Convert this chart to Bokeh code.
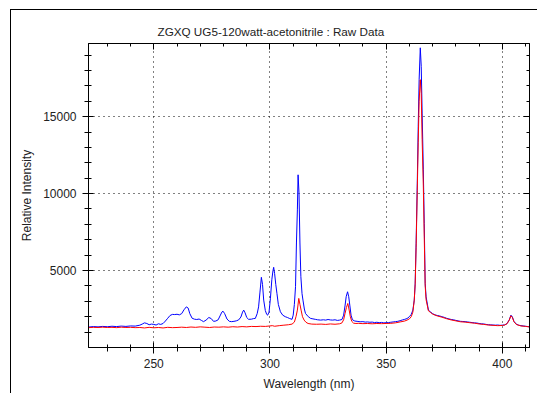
from bokeh.plotting import figure
from bokeh.models import Range1d, LinearAxis, FixedTicker
from bokeh.embed import file_html
from bokeh.resources import INLINE

# ---- data ----
blue_wl = [222, 224, 226, 228, 230, 232, 234, 236, 238, 240, 242, 244, 245, 246, 247, 248, 249, 250,
           251, 252, 253, 254, 255, 256, 257, 258, 259, 260, 261, 262, 263, 264, 264.8, 265.5, 266.5,
           267.5, 268.5, 269.5, 270.5, 271.4, 272.5, 273.7, 274.7, 275.7, 276.7, 277.7, 278.5, 279.3,
           279.8, 280.5, 281.5, 282.5, 283.5, 284.5, 285.5, 286.5, 287.5, 288.2, 288.7, 289.3, 290,
           290.8, 292, 293, 293.7, 294.5, 295.1, 295.7, 296.3, 296.8, 297.3, 298, 298.6, 299, 299.6,
           300.2, 300.8, 301.3, 301.6, 302, 302.5, 303, 303.6, 304.5, 305.5, 306.6, 307.5, 308.5,
           309.5, 310, 310.5, 311, 311.4, 311.8, 312.1, 312.5, 312.9, 313.3, 313.8, 314.2, 314.8,
           315.3, 316.5, 317.5, 318.5, 319.5, 320.5, 321.8, 323, 324, 325, 326, 327, 328, 329, 330,
           331, 331.7, 332.3, 332.8, 333.4, 333.9, 334.4, 334.9, 335.5, 336.5, 337.5, 338.8, 340,
           341, 342, 343, 344, 345, 346, 347, 348, 349, 350, 351, 352, 353, 354, 355, 356, 357, 358,
           359, 360, 360.8, 361.5, 362.1, 362.5, 362.9, 363.4, 363.8, 364.2, 364.7, 365.1, 365.5,
           366, 366.4, 366.8, 367.2, 368.2, 369, 370, 371, 372, 373, 374, 375, 376, 377, 378, 379,
           380, 381, 382, 383, 384, 385, 386, 387, 388, 389, 390, 391, 392, 393, 394, 395, 396, 397,
           398, 399, 400, 401, 402, 403, 403.7, 404.3, 405, 406, 407, 408, 409, 410, 411, 412]
blue_int = [1330, 1360, 1340, 1370, 1350, 1380, 1360, 1390, 1370, 1400, 1390, 1450, 1520, 1600, 1560,
            1480, 1520, 1500, 1460, 1540, 1500, 1560, 1720, 1900, 2080, 2150, 2140, 2160, 2120, 2200,
            2450, 2640, 2560, 2200, 1900, 1840, 1820, 1850, 1760, 1680, 1780, 1950, 1880, 1700, 1720,
            1800, 2050, 2300, 2360, 2200, 1850, 1700, 1680, 1700, 1730, 1790, 1980, 2300, 2430, 2250,
            1950, 1830, 1840, 1880, 1890, 2200, 2640, 3600, 4560, 4100, 3080, 2400, 2150, 2100, 2300,
            3200, 4400, 5000, 5210, 4800, 4100, 3520, 2800, 2320, 2100, 2000, 1950, 1880, 1830, 2100,
            2800, 3950, 6790, 8940, 11220, 10030, 6790, 4600, 3500, 3080, 2500, 2210, 2000, 1890, 1860,
            1830, 1800, 1780, 1800, 1780, 1820, 1790, 1780, 1800, 1760, 1780, 1820, 2100, 2700, 3300,
            3620, 3300, 2700, 2100, 1800, 1720, 1700, 1670, 1680, 1650, 1660, 1640, 1650, 1620, 1640,
            1610, 1630, 1600, 1610, 1620, 1640, 1660, 1680, 1700, 1740, 1790, 1830, 1880, 2000, 2150,
            2430, 3080, 4170, 6770, 10680, 14360, 17400, 19470, 18270, 15230, 11540, 8070, 4170, 3290,
            2430, 2320, 2200, 2120, 2080, 2050, 2000, 1960, 1900, 1860, 1820, 1800, 1760, 1730, 1700,
            1690, 1680, 1660, 1640, 1620, 1600, 1590, 1560, 1540, 1530, 1500, 1480, 1470, 1460, 1450,
            1460, 1440, 1450, 1470, 1550, 1800, 2100, 2000, 1700, 1520, 1450, 1420, 1400, 1380, 1360,
            1340]

red_wl = [222, 224, 226, 228, 230, 232, 234, 236, 238, 240, 242, 244, 246, 248, 250, 252, 254, 256,
          258, 260, 262, 264, 266, 268, 270, 272, 274, 276, 278, 280, 282, 284, 286, 288, 290, 292,
          294, 296, 298, 300, 301, 302, 304, 306, 308, 309.5, 310.5, 311.2, 311.8, 312.4, 312.9,
          313.4, 314, 314.7, 315.5, 316.4, 318, 320, 322, 324, 326, 328, 330, 331, 331.7, 332.3,
          332.9, 333.5, 334, 334.6, 335.2, 336, 337, 338, 340, 342, 344, 346, 348, 350, 352, 354,
          356, 358, 359, 360, 360.8, 361.5, 362.1, 362.5, 362.9, 363.4, 363.8, 364.2, 364.7, 365.1,
          365.5, 366, 366.4, 366.8, 367.2, 368.2, 369, 370, 372, 374, 376, 378, 380, 382, 384, 386,
          388, 390, 392, 394, 396, 398, 400, 401, 402, 403, 403.7, 404.3, 405, 406, 408, 410, 412]
red_int = [1290, 1310, 1300, 1320, 1300, 1310, 1290, 1320, 1300, 1310, 1290, 1300, 1270, 1310, 1280,
           1300, 1270, 1310, 1290, 1300, 1320, 1300, 1330, 1310, 1340, 1320, 1300, 1330, 1320, 1340,
           1320, 1350, 1330, 1360, 1340, 1370, 1360, 1380, 1370, 1400, 1420, 1380, 1420, 1450, 1480,
           1520, 1650, 2000, 2430, 3190, 2800, 2430, 2000, 1780, 1640, 1560, 1520, 1510, 1520, 1500,
           1530, 1510, 1540, 1600, 1800, 2200, 2600, 2860, 2500, 2000, 1700, 1580, 1560, 1570, 1550,
           1560, 1540, 1560, 1550, 1560, 1570, 1600, 1660, 1720, 1780, 1860, 2000, 2300, 3080, 4100,
           6500, 10200, 13300, 16000, 17400, 16500, 13500, 10500, 7200, 4000, 3100, 2380, 2290, 2170,
           2050, 1970, 1870, 1790, 1730, 1670, 1650, 1610, 1580, 1530, 1500, 1460, 1440, 1420, 1430,
           1460, 1540, 1780, 2060, 1960, 1680, 1500, 1400, 1370, 1330]

title_text = "ZGXQ  UG5-120watt-acetonitrile : Raw Data"
x_major = [250, 300, 350, 400]
x_minor = [230, 240, 260, 270, 280, 290, 310, 320, 330, 340, 360, 370, 380, 390, 410]
y_major = [5000, 10000, 15000]
y_minor = [1000, 2000, 3000, 4000, 6000, 7000, 8000, 9000, 11000, 12000, 13000, 14000,
           16000, 17000, 18000, 19000]

FONT = "Liberation Sans"
TXT = "#222222"

p = figure(width=527, height=384, output_backend="svg", toolbar_location=None,
           x_range=Range1d(221.9, 411.7), y_range=Range1d(0, 19750),
           min_border_left=77, min_border_right=9, min_border_top=33, min_border_bottom=47,
           background_fill_color="white", border_fill_color="white")
p.margin = (9, 0, 0, 10)
p.styles = {"border-left": "1px solid black", "border-top": "1px solid black"}

p.line(blue_wl, blue_int, line_color="#0000ff", line_width=1)
p.line(red_wl, red_int, line_color="#ff0000", line_width=1)

xt = FixedTicker(ticks=x_major, minor_ticks=x_minor)
yt = FixedTicker(ticks=y_major, minor_ticks=y_minor)

for ax, t in ((p.xaxis[0], xt), (p.yaxis[0], yt)):
    ax.ticker = t
    ax.axis_line_color = "black"
    ax.major_tick_line_color = "black"
    ax.minor_tick_line_color = "black"
    ax.major_tick_in = 5
    ax.major_tick_out = 6
    ax.minor_tick_in = 3
    ax.minor_tick_out = 4
    ax.major_label_text_font = FONT
    ax.major_label_text_font_size = "12px"
    ax.major_label_text_color = TXT
    ax.axis_label_text_font = FONT
    ax.axis_label_text_font_size = "12px"
    ax.axis_label_text_font_style = "normal"
    ax.axis_label_text_color = TXT

p.xaxis[0].axis_label = "Wavelength (nm)"
p.yaxis[0].axis_label = "Relative Intensity"
p.xaxis[0].major_label_standoff = 5
p.xaxis[0].axis_label_standoff = 6
p.yaxis[0].major_label_standoff = 6
p.yaxis[0].axis_label_standoff = 6
p.yaxis[0].major_label_orientation = "horizontal"

top_ax = LinearAxis(ticker=xt, major_label_text_font_size="0px", major_label_text_color=None,
                    major_tick_in=6, major_tick_out=0,
                    minor_tick_in=3, minor_tick_out=0, axis_line_color="black",
                    major_label_standoff=0)
right_ax = LinearAxis(ticker=yt, major_label_text_font_size="0px", major_label_text_color=None,
                      major_tick_in=6, major_tick_out=0,
                      minor_tick_in=3, minor_tick_out=0, axis_line_color="black",
                      major_label_standoff=0)
p.add_layout(top_ax, "above")
p.add_layout(right_ax, "right")

for g, t in ((p.xgrid[0], xt), (p.ygrid[0], yt)):
    g.ticker = t
    g.grid_line_color = "black"
    g.grid_line_dash = "1 4"
    g.grid_line_width = 1

p.outline_line_color = "black"

p.title.text = title_text
p.title.align = "left"
p.title.offset = 69
p.title.text_font = FONT
p.title.text_font_size = "11.7px"
p.title.text_font_style = "normal"
p.title.text_color = TXT
p.title.standoff = 11

open("out.html", "w").write(file_html(p, INLINE))
